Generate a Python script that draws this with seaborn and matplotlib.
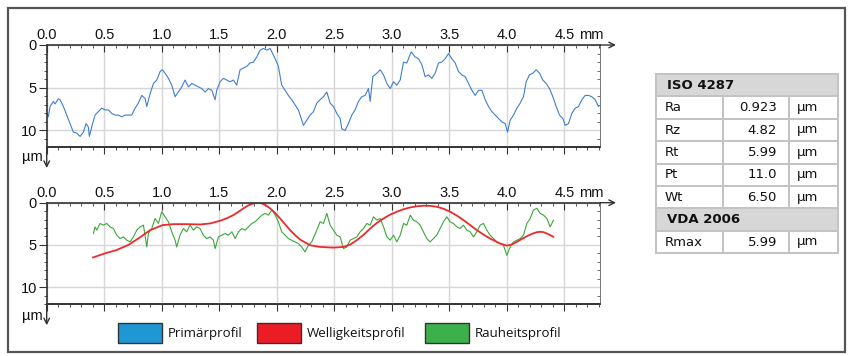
import numpy as np
import pandas as pd
import matplotlib
matplotlib.use("Agg")
import matplotlib.pyplot as plt
import matplotlib.transforms as mtransforms
from matplotlib.patches import Rectangle
from matplotlib.ticker import MultipleLocator
import seaborn as sns

# ---------------- data ----------------
primary_x = [0.000, 0.014, 0.029, 0.058, 0.072, 0.101, 0.116, 0.145, 0.174, 0.203, 0.232, 0.261,
             0.290, 0.319, 0.342, 0.362, 0.371, 0.391, 0.420, 0.449, 0.478, 0.507, 0.536, 0.565,
             0.594, 0.623, 0.652, 0.681, 0.710, 0.739, 0.768, 0.797, 0.826, 0.855, 0.870, 0.899,
             0.928, 0.957, 0.986, 1.006, 1.029, 1.058, 1.087, 1.116, 1.145, 1.174, 1.203, 1.232,
             1.261, 1.290, 1.319, 1.348, 1.377, 1.406, 1.435, 1.464, 1.478, 1.507, 1.536, 1.565,
             1.594, 1.623, 1.652, 1.681, 1.710, 1.739, 1.768, 1.797, 1.826, 1.855, 1.884, 1.913,
             1.942, 1.957, 1.986, 2.014, 2.043, 2.072, 2.101, 2.130, 2.159, 2.188, 2.232, 2.261,
             2.290, 2.319, 2.348, 2.377, 2.406, 2.435, 2.464, 2.493, 2.522, 2.551, 2.565, 2.594,
             2.623, 2.652, 2.681, 2.710, 2.739, 2.768, 2.797, 2.812, 2.835, 2.870, 2.899, 2.928,
             2.957, 2.986, 3.015, 3.044, 3.073, 3.102, 3.131, 3.168, 3.203, 3.232, 3.261, 3.290,
             3.319, 3.348, 3.377, 3.406, 3.435, 3.464, 3.493, 3.522, 3.551, 3.580, 3.609, 3.638,
             3.667, 3.696, 3.725, 3.754, 3.783, 3.812, 3.841, 3.870, 3.899, 3.928, 3.957, 3.986,
             4.006, 4.029, 4.058, 4.087, 4.116, 4.145, 4.168, 4.197, 4.226, 4.255, 4.284, 4.313,
             4.342, 4.371, 4.400, 4.429, 4.458, 4.487, 4.507, 4.536, 4.565, 4.594, 4.623, 4.652,
             4.681, 4.710, 4.739, 4.768, 4.797]
primary_y = [8.0, 8.4, 7.2, 6.6, 6.9, 6.3, 6.4, 7.2, 8.2, 9.2, 10.2, 10.3,
             10.7, 10.2, 9.2, 9.6, 10.7, 9.6, 8.2, 7.8, 7.4, 7.6, 7.6, 8.0,
             8.2, 8.2, 8.4, 8.2, 8.2, 8.2, 7.4, 6.8, 5.9, 6.25, 7.2, 5.7,
             4.5, 4.1, 3.1, 2.9, 3.3, 3.9, 4.7, 6.05, 5.5, 4.9, 4.1, 4.9,
             4.5, 4.7, 4.9, 5.1, 5.5, 5.1, 5.3, 6.4, 5.3, 4.3, 3.9, 4.1,
             4.3, 4.1, 4.7, 2.9, 2.7, 2.5, 2.1, 2.0, 1.4, 0.6, 0.4, 0.6,
             0.4, 0.8, 1.6, 2.5, 4.7, 5.3, 5.9, 6.4, 7.0, 7.6, 9.4, 8.8,
             8.2, 7.8, 6.8, 6.4, 6.05, 5.5, 6.8, 7.2, 8.0, 8.6, 9.8, 10.0,
             9.2, 8.2, 7.6, 6.6, 6.05, 5.9, 5.1, 6.6, 3.7, 3.3, 2.9, 3.5,
             4.5, 5.1, 4.3, 4.7, 4.1, 2.0, 2.1, 0.8, 1.4, 1.6, 2.3, 3.7,
             3.5, 3.9, 3.3, 2.1, 2.0, 1.6, 1.0, 1.6, 2.1, 3.1, 3.5, 3.7,
             4.5, 5.3, 5.9, 5.3, 5.3, 6.4, 7.2, 7.8, 8.2, 8.6, 9.0, 9.2,
             10.2, 8.8, 8.2, 7.4, 6.8, 6.05, 4.3, 3.5, 3.3, 2.9, 3.3, 4.1,
             4.5, 5.1, 6.05, 7.2, 8.2, 8.6, 9.4, 9.2, 8.0, 7.4, 7.2, 6.4,
             5.9, 5.9, 6.05, 6.4, 7.2]

wave_x = [0.400, 0.507, 0.609, 0.710, 0.812, 0.899, 1.006, 1.101, 1.217, 1.333, 1.420, 1.507,
          1.565, 1.623, 1.670, 1.710, 1.755, 1.797, 1.835, 1.870, 1.905, 1.942, 1.985, 2.029,
          2.075, 2.116, 2.160, 2.203, 2.290, 2.377, 2.493, 2.580, 2.640, 2.696, 2.755, 2.812,
          2.870, 2.928, 2.985, 3.044, 3.100, 3.160, 3.220, 3.275, 3.335, 3.391, 3.450, 3.507,
          3.565, 3.623, 3.680, 3.739, 3.800, 3.855, 3.942, 4.000, 4.045, 4.087, 4.130, 4.174,
          4.220, 4.261, 4.290, 4.319, 4.360, 4.406]
wave_y = [6.5, 6.0, 5.6, 5.0, 4.1, 3.25, 2.66, 2.54, 2.54, 2.58, 2.46, 2.14,
          1.85, 1.47, 1.05, 0.67, 0.30, 0.08, 0.0, 0.08, 0.30, 0.67, 1.2, 1.87,
          2.6, 3.25, 3.85, 4.37, 5.04, 5.24, 5.32, 5.24, 4.95, 4.44, 3.8, 3.06,
          2.4, 1.87, 1.42, 1.07, 0.78, 0.56, 0.42, 0.36, 0.38, 0.48, 0.72, 1.07,
          1.52, 2.06, 2.64, 3.25, 3.8, 4.25, 4.84, 5.08, 4.95, 4.64, 4.3, 3.97,
          3.68, 3.49, 3.45, 3.49, 3.72, 4.05]

rough_x = [0.406, 0.420, 0.435, 0.464, 0.493, 0.522, 0.551, 0.580, 0.609, 0.638, 0.667, 0.696,
           0.725, 0.754, 0.783, 0.812, 0.841, 0.870, 0.884, 0.913, 0.942, 0.971, 1.000, 1.029,
           1.058, 1.087, 1.116, 1.130, 1.159, 1.188, 1.217, 1.246, 1.275, 1.304, 1.333, 1.362,
           1.391, 1.420, 1.449, 1.464, 1.493, 1.522, 1.551, 1.580, 1.609, 1.638, 1.667, 1.696,
           1.725, 1.754, 1.783, 1.812, 1.841, 1.870, 1.899, 1.928, 1.957, 1.986, 2.014, 2.043,
           2.072, 2.101, 2.130, 2.159, 2.188, 2.217, 2.246, 2.275, 2.304, 2.348, 2.377, 2.406,
           2.435, 2.464, 2.493, 2.522, 2.551, 2.580, 2.609, 2.638, 2.667, 2.696, 2.725, 2.754,
           2.783, 2.812, 2.841, 2.870, 2.899, 2.928, 2.957, 2.986, 3.015, 3.044, 3.073, 3.102,
           3.131, 3.160, 3.188, 3.217, 3.246, 3.275, 3.304, 3.333, 3.362, 3.391, 3.420, 3.449,
           3.478, 3.507, 3.536, 3.565, 3.594, 3.623, 3.652, 3.681, 3.710, 3.739, 3.768, 3.797,
           3.826, 3.855, 3.884, 3.913, 3.942, 3.971, 4.000, 4.029, 4.058, 4.087, 4.116, 4.145,
           4.174, 4.203, 4.232, 4.261, 4.290, 4.319, 4.348, 4.377, 4.406]
rough_y = [3.65, 2.86, 3.25, 2.46, 2.66, 2.46, 2.86, 3.06, 3.85, 4.25, 4.05, 4.44,
           4.64, 4.05, 3.25, 2.86, 2.66, 5.24, 3.65, 3.06, 1.87, 2.46, 1.07, 1.67,
           2.26, 3.45, 4.44, 5.24, 3.85, 3.06, 3.45, 2.66, 3.25, 2.86, 3.06, 3.85,
           4.25, 4.05, 4.44, 5.44, 4.05, 3.85, 3.65, 3.85, 3.45, 4.25, 3.45, 3.06,
           3.25, 2.86, 2.46, 2.26, 1.87, 1.47, 1.27, 1.47, 0.87, 1.47, 2.26, 3.45,
           3.85, 4.25, 4.44, 4.64, 4.84, 5.24, 5.83, 5.04, 4.64, 3.25, 2.26, 2.46,
           1.27, 2.66, 3.25, 3.85, 4.05, 5.44, 5.24, 4.44, 4.25, 4.05, 3.45, 3.06,
           2.46, 2.66, 1.67, 2.06, 1.87, 2.86, 4.05, 4.44, 3.85, 4.64, 3.85, 2.46,
           2.66, 1.47, 2.06, 2.26, 2.66, 3.45, 4.25, 4.64, 4.25, 3.85, 3.06, 2.26,
           1.67, 2.26, 2.46, 2.86, 3.06, 2.66, 3.25, 3.45, 4.05, 3.45, 2.66, 2.46,
           3.25, 3.85, 4.25, 4.64, 4.84, 5.04, 6.23, 5.24, 4.64, 4.44, 4.25, 3.85,
           2.46, 1.87, 0.87, 0.67, 1.27, 1.47, 1.87, 2.86, 2.06]

x_tick_values = [0.0, 0.5, 1.0, 1.5, 2.0, 2.5, 3.0, 3.5, 4.0, 4.5]
x_tick_labels = ["0.0", "0.5", "1.0", "1.5", "2.0", "2.5", "3.0", "3.5", "4.0", "4.5"]
y_tick_values = [0, 5, 10]
y_tick_labels = ["0", "5", "10"]

iso_title = "ISO 4287"
iso_params = ["Ra", "Rz", "Rt", "Pt", "Wt"]
iso_values = ["0.923", "4.82", "5.99", "11.0", "6.50"]
vda_title = "VDA 2006"
vda_params = ["Rmax"]
vda_values = ["5.99"]
unit = "µm"

legend_labels = ["Primärprofil", "Welligkeitsprofil", "Rauheitsprofil"]
legend_colors = ["#1e97d4", "#ed1c24", "#3db04b"]

BLUE_LINE = "#3f7fcc"
RED_LINE = "#ee2a2a"
GREEN_LINE = "#3aa83a"

# ---------------- figure ----------------
sns.set_style("white")
plt.rcParams["font.family"] = ["Liberation Sans", "DejaVu Sans"]

W, H = 849, 356
fig = plt.figure(figsize=(W / 100, H / 100), dpi=100)
fig.patch.set_facecolor("white")


def fx(px):
    return px / W


def fy(py):
    return 1 - py / H


AX_L, AX_R = 46.7, 600.0
ax1 = fig.add_axes([fx(AX_L), fy(146.7), (AX_R - AX_L) / W, (146.7 - 45.0) / H])
ax2 = fig.add_axes([fx(AX_L), fy(304.0), (AX_R - AX_L) / W, (304.0 - 202.7) / H])

df_p = pd.DataFrame({"x": primary_x, "y": primary_y})
df_w = pd.DataFrame({"x": wave_x, "y": wave_y})
df_r = pd.DataFrame({"x": rough_x, "y": rough_y})

sns.lineplot(data=df_p, x="x", y="y", ax=ax1, color=BLUE_LINE, lw=0.8,
             estimator=None, sort=False)
sns.lineplot(data=df_r, x="x", y="y", ax=ax2, color=GREEN_LINE, lw=0.8,
             estimator=None, sort=False)
sns.lineplot(data=df_w, x="x", y="y", ax=ax2, color=RED_LINE, lw=1.3,
             estimator=None, sort=False)

SPINE = "#333333"
for ax, ymax, mu_y in [(ax1, 11.9, -0.10), (ax2, 12.0, -0.12)]:
    ax.set_xlim(0, 4.81)
    ax.set_ylim(ymax, 0)
    ax.set_xlabel("")
    ax.set_ylabel("")
    ax.set_facecolor("white")
    ax.set_xticks(x_tick_values)
    ax.set_xticklabels(x_tick_labels)
    ax.xaxis.set_minor_locator(MultipleLocator(0.1))
    ax.tick_params(axis="x", which="both", top=True, bottom=False,
                   labeltop=True, labelbottom=False, direction="in", colors=SPINE)
    ax.tick_params(axis="x", which="major", length=5, width=0.8, pad=2,
                   labelsize=10.5, labelcolor="#111111")
    ax.tick_params(axis="x", which="minor", length=2.5, width=0.6)
    ax.set_yticks(y_tick_values)
    ax.set_yticklabels(y_tick_labels)
    ax.yaxis.set_minor_locator(MultipleLocator(1))
    ax.tick_params(axis="y", which="both", left=True, right=False,
                   direction="out", colors=SPINE)
    ax.tick_params(axis="y", which="major", length=6, width=0.8, pad=1,
                   labelsize=10.5, labelcolor="#111111")
    ax.tick_params(axis="y", which="minor", length=2.2, width=0.6)
    ax.grid(True, which="major", color="#d6d6d6", lw=1.0)
    ax.set_axisbelow(True)
    for side in ["top", "bottom", "left"]:
        ax.spines[side].set_visible(True)
        ax.spines[side].set_color(SPINE)
        ax.spines[side].set_linewidth(1.2)
    ax.spines["right"].set_visible(True)
    ax.spines["right"].set_color("#777777")
    ax.spines["right"].set_linewidth(0.6)

    secx = ax.secondary_xaxis("bottom")
    secx.set_xticks(x_tick_values)
    secx.set_xticklabels([])
    secx.xaxis.set_minor_locator(MultipleLocator(0.1))
    secx.tick_params(axis="x", which="major", direction="out", length=5, width=0.8, colors=SPINE)
    secx.tick_params(axis="x", which="minor", direction="out", length=2.5, width=0.6, colors=SPINE)
    secx.spines["bottom"].set_color(SPINE)
    secx.spines["bottom"].set_linewidth(1.2)

    secy = ax.secondary_yaxis("right")
    secy.set_yticks(y_tick_values)
    secy.set_yticklabels([])
    secy.yaxis.set_minor_locator(MultipleLocator(1))
    secy.tick_params(axis="y", which="major", direction="in", length=5, width=0.6, colors="#555555")
    secy.tick_params(axis="y", which="minor", direction="in", length=2.5, width=0.6, colors="#555555")
    secy.spines["right"].set_color("#777777")
    secy.spines["right"].set_linewidth(0.6)

    # arrows on top spine (right) and left spine (down)
    ax.annotate("", xy=(1 + 16 / (AX_R - AX_L), 1), xytext=(1, 1), xycoords="axes fraction",
                arrowprops=dict(arrowstyle="->", color=SPINE, lw=1.0, shrinkA=0, shrinkB=0,
                                mutation_scale=10),
                annotation_clip=False)
    ax.annotate("", xy=(0, -0.21), xytext=(0, 0), xycoords="axes fraction",
                arrowprops=dict(arrowstyle="->", color=SPINE, lw=1.0, shrinkA=0, shrinkB=0,
                                mutation_scale=10),
                annotation_clip=False)
    ax.text(-0.008, mu_y, unit, transform=ax.transAxes, ha="right", va="center",
            fontsize=10.5, color="#111111")
    trans = mtransforms.blended_transform_factory(ax.transData, ax.transAxes)
    trans = mtransforms.offset_copy(trans, fig=fig, y=2, units="points")
    ax.text(4.625, 1.0, "mm", transform=trans, ha="left", va="bottom",
            fontsize=10.5, color="#111111")

# ---------------- table ----------------
TX0, TX1 = 656, 838
TC1, TC2 = 723, 789
TY0 = 74
RH = 22.4
rows = [("h", iso_title)]
rows += [("d", p, v) for p, v in zip(iso_params, iso_values)]
rows += [("h", vda_title)]
rows += [("d", p, v) for p, v in zip(vda_params, vda_values)]

BORDER = "#c3c3c3"
HEADER_BG = "#d7d7d7"


def frect(x0, y0, x1, y1, color):
    fig.patches.append(Rectangle((fx(x0), fy(y1)), (x1 - x0) / W, (y1 - y0) / H,
                                 transform=fig.transFigure, facecolor=color,
                                 edgecolor="none", zorder=1))


frect(TX0 - 1, TY0 - 1, TX1 + 1, TY0 + RH * len(rows) + 1, BORDER)
for i, row in enumerate(rows):
    top = TY0 + i * RH
    bot = top + RH
    cy = (top + bot) / 2
    if row[0] == "h":
        frect(TX0 + 1, top + 1, TX1 - 1, bot - 1, HEADER_BG)
        fig.text(fx(TX0 + 11), fy(cy), row[1], ha="left", va="center",
                 fontsize=9.5, fontweight="bold", family="DejaVu Sans", color="#111111")
    else:
        frect(TX0 + 1, top + 1, TC1 - 1, bot - 1, "white")
        frect(TC1 + 1, top + 1, TC2 - 1, bot - 1, "white")
        frect(TC2 + 1, top + 1, TX1 - 1, bot - 1, "white")
        fig.text(fx(TX0 + 9), fy(cy), row[1], ha="left", va="center",
                 fontsize=9.5, family="DejaVu Sans", color="#111111")
        fig.text(fx(TC2 - 12), fy(cy), row[2], ha="right", va="center",
                 fontsize=9.5, family="DejaVu Sans", color="#111111")
        fig.text(fx(TC2 + 8), fy(cy), unit, ha="left", va="center",
                 fontsize=9.5, family="DejaVu Sans", color="#111111")

# ---------------- legend ----------------
box_x = [118, 257, 425]
for bx, lab, col in zip(box_x, legend_labels, legend_colors):
    fig.patches.append(Rectangle((fx(bx), fy(343)), 44 / W, 20 / H, transform=fig.transFigure,
                                 facecolor=col, edgecolor="#333333", lw=1.0, zorder=2))
    fig.text(fx(bx + 50), fy(333.5), lab, ha="left", va="center", fontsize=9.5,
             family="Open Sans", color="#111111")

# ---------------- outer frame ----------------
fig.patches.append(Rectangle((fx(8), fy(352)), (845 - 8) / W, (352 - 8) / H,
                             transform=fig.transFigure, fill=False, edgecolor="#555555",
                             lw=1.6, zorder=3))

fig.savefig("out.png", dpi=100, facecolor="white")
